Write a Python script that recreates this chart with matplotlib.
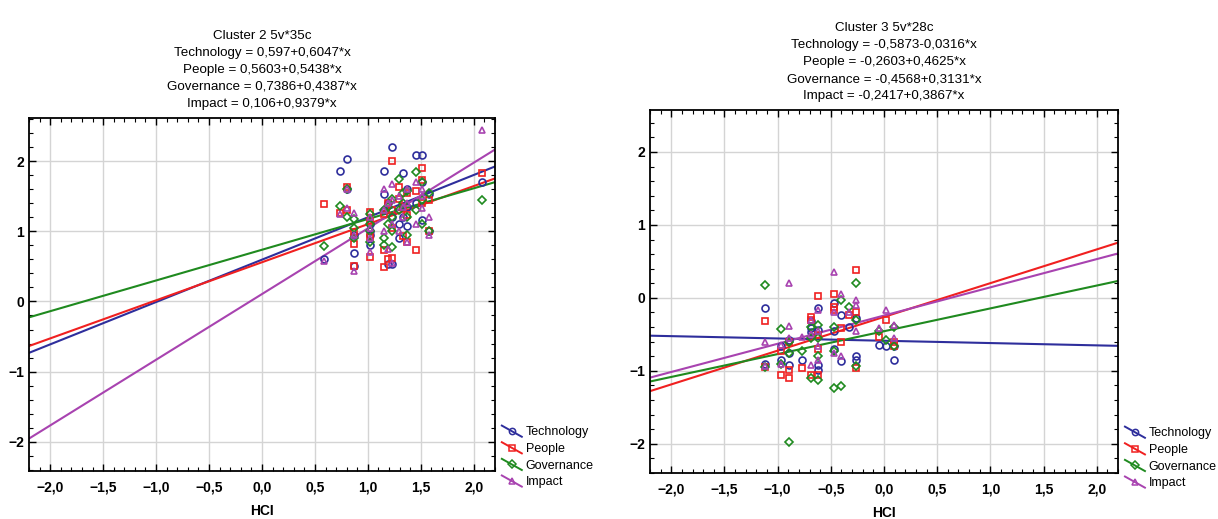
import matplotlib
matplotlib.use('Agg')
import matplotlib.pyplot as plt
from matplotlib.lines import Line2D
from matplotlib.legend_handler import HandlerBase
from matplotlib.ticker import FuncFormatter, MultipleLocator

plt.rcParams['font.family'] = ['Liberation Sans Narrow', 'Liberation Sans', 'DejaVu Sans']
plt.rcParams['font.size'] = 10

series = ['Technology', 'People', 'Governance', 'Impact']
colors = ['#2e2e9c', '#f02020', '#1f8a1f', '#a843b0']
markers = ['o', 's', 'D', '^']

# Cluster 2 (35 cases)
hci2 = [0.59, 0.74, 0.80, 0.80, 0.87, 0.87, 0.87, 1.02, 1.02, 1.02, 1.02, 1.15, 1.15, 1.15,
        1.19, 1.19, 1.23, 1.23, 1.23, 1.23, 1.29, 1.29, 1.33, 1.33, 1.37, 1.37, 1.37, 1.45,
        1.45, 1.51, 1.51, 1.51, 1.58, 1.58, 2.08]
tech2 = [0.60, 1.87, 2.04, 1.60, 0.69, 0.95, 0.50, 1.11, 0.80, 0.95, 1.00, 1.86, 1.53, 1.30,
         0.53, 1.40, 2.20, 0.53, 1.20, 1.30, 0.90, 1.10, 1.83, 1.20, 1.08, 1.35, 1.60, 2.09,
         1.40, 2.09, 1.17, 1.70, 1.54, 1.00, 1.70]
people2 = [1.39, 1.27, 1.63, 1.30, 0.99, 0.82, 0.50, 1.28, 0.92, 0.64, 1.15, 0.73, 0.49, 1.25,
           1.40, 0.60, 2.00, 0.62, 1.30, 1.05, 1.63, 1.47, 0.93, 1.35, 1.23, 1.55, 0.85, 1.58,
           0.73, 1.91, 1.74, 1.40, 1.00, 1.45, 1.83]
gov2 = [0.79, 1.36, 1.60, 1.20, 1.18, 0.90, 1.05, 1.00, 1.25, 0.85, 1.10, 0.90, 0.80, 1.30,
        1.10, 1.35, 0.78, 1.47, 1.20, 1.00, 1.75, 1.30, 1.55, 1.40, 1.58, 1.20, 0.95, 1.30,
        1.85, 1.70, 1.10, 1.45, 1.00, 1.55, 1.45]
impact2 = [0.58, 1.25, 1.33, 1.60, 1.27, 0.43, 0.95, 1.05, 1.20, 0.90, 0.70, 1.60, 1.00, 1.30,
           1.40, 0.75, 1.68, 1.10, 1.45, 0.55, 1.00, 1.50, 1.35, 1.20, 0.85, 1.60, 1.40, 1.70,
           1.10, 1.60, 1.33, 1.50, 1.20, 0.95, 2.45]
icpt2 = [0.597, 0.5603, 0.7386, 0.106]
slope2 = [0.6047, 0.5438, 0.4387, 0.9379]

# Cluster 3 (28 cases)
hci3 = [-1.12, -1.12, -0.97, -0.97, -0.89, -0.89, -0.89, -0.77, -0.69, -0.69, -0.69, -0.62,
        -0.62, -0.62, -0.62, -0.47, -0.47, -0.47, -0.40, -0.40, -0.33, -0.26, -0.26, -0.26,
        -0.05, 0.02, 0.09, 0.09]
tech3 = [-0.14, -0.90, -0.66, -0.85, -0.58, -0.92, -0.75, -0.85, -0.32, -0.41, -0.47, -0.14,
         -0.44, -0.92, -0.99, -0.07, -0.46, -0.70, -0.23, -0.87, -0.40, -0.28, -0.80, -0.85,
         -0.64, -0.66, -0.66, -0.85]
people3 = [-0.32, -0.95, -0.73, -1.05, -0.99, -1.10, -0.60, -0.96, -0.26, -0.30, -1.05, 0.02,
           -0.51, -1.05, -0.70, 0.06, -0.12, -0.16, -0.41, -0.60, -0.23, 0.38, -0.19, -0.96,
           -0.53, -0.30, -0.66, -0.60]
gov3 = [0.18, -0.95, -0.42, -0.90, -1.97, -0.75, -0.60, -0.73, -1.10, -0.55, -0.40, -0.37,
        -0.80, -1.12, -0.55, -1.24, -0.73, -0.40, -0.03, -1.21, -0.12, 0.20, -0.94, -0.30,
        -0.45, -0.58, -0.66, -0.40]
impact3 = [-0.94, -0.60, -0.90, -0.65, 0.21, -0.39, -0.55, -0.54, -0.92, -0.50, -0.30, -0.16,
           -0.66, -0.45, -0.85, 0.36, -0.76, -0.20, 0.06, -0.80, -0.19, -0.03, -0.46, -0.10,
           -0.41, -0.16, -0.37, -0.55]
icpt3 = [-0.5873, -0.2603, -0.4568, -0.2417]
slope3 = [-0.0316, 0.4625, 0.3131, 0.3867]

titles = [
    'Cluster 2 5v*35c\nTechnology = 0,597+0,6047*x\nPeople = 0,5603+0,5438*x\n'
    'Governance = 0,7386+0,4387*x\nImpact = 0,106+0,9379*x',
    'Cluster 3 5v*28c\nTechnology = -0,5873-0,0316*x\nPeople = -0,2603+0,4625*x\n'
    'Governance = -0,4568+0,3131*x\nImpact = -0,2417+0,3867*x',
]


class DiagHandler(HandlerBase):
    # diagonal line with the marker in the middle, like the original legend
    def create_artists(self, legend, orig, xd, yd, w, h, fontsize, trans):
        c = orig.get_color()
        ln = Line2D([-xd, -xd + w], [-yd + h, -yd], color=c, lw=1.4)
        mk = Line2D([-xd + w / 2], [-yd + h / 2], marker=orig.get_marker(), ms=4.5,
                    mfc='none', mec=c, mew=1.1, ls='none')
        ln.set_transform(trans)
        mk.set_transform(trans)
        return [ln, mk]


def fmt_x(v, pos):
    return ('%.1f' % v).replace('.', ',').replace('-', '\u2212')


def fmt_y(v, pos):
    return ('%d' % round(v)).replace('-', '\u2212')


def panel(fig, rect, hci, ys, icpt, slope, title, ylim, leg_xy):
    ax = fig.add_axes(rect)
    handles = []
    for y, c, m, a, b, name in zip(ys, colors, markers, icpt, slope, series):
        ms = 4.0 if m == 'D' else 5.0
        ax.plot(hci, y, ls='none', marker=m, ms=ms, mfc='none', mec=c, mew=1.2, zorder=3)
        ax.axline((0, a), slope=b, color=c, lw=1.5, zorder=2)
        handles.append(Line2D([], [], color=c, marker=m, label=name))
    ax.set_xlim(-2.2, 2.2)
    ax.set_ylim(*ylim)
    ax.xaxis.set_major_locator(MultipleLocator(0.5))
    ax.xaxis.set_minor_locator(MultipleLocator(0.1))
    ax.yaxis.set_major_locator(MultipleLocator(1))
    ax.yaxis.set_minor_locator(MultipleLocator(0.2))
    ax.xaxis.set_major_formatter(FuncFormatter(fmt_x))
    ax.yaxis.set_major_formatter(FuncFormatter(fmt_y))
    ax.tick_params(which='both', direction='in', top=True, right=True, labelsize=10)
    ax.tick_params(which='major', length=5, width=1)
    ax.tick_params(axis='x', which='major', pad=6.5)
    ax.tick_params(which='minor', length=3, width=0.8)
    for lab in ax.get_xticklabels() + ax.get_yticklabels():
        lab.set_fontweight('bold')
    ax.grid(True, which='major', color='#d4d4d4', lw=1)
    ax.set_axisbelow(True)
    for s in ax.spines.values():
        s.set_linewidth(1.3)
    ax.set_xlabel('HCI', fontsize=10, fontweight='bold', labelpad=7.5)
    ax.set_title(title, fontsize=9.6, linespacing=1.54, pad=8)
    fig.legend(handles=handles, loc='upper left', bbox_to_anchor=leg_xy, frameon=False,
               handler_map={Line2D: DiagHandler()}, handlelength=1.6, handleheight=1.0,
               handletextpad=0.3, labelspacing=0.3, borderpad=0, borderaxespad=0,
               fontsize=9.0)
    return ax


fig = plt.figure(figsize=(12.18, 5.19), dpi=100)
panel(fig, [0.0238, 0.0925, 0.3826, 0.6802], hci2, [tech2, people2, gov2, impact2],
      icpt2, slope2, titles[0], (-2.42, 2.62), (0.412, 0.180))
panel(fig, [0.5337, 0.0886, 0.3842, 0.6994], hci3, [tech3, people3, gov3, impact3],
      icpt3, slope3, titles[1], (-2.40, 2.575), (0.9236, 0.178))
plt.savefig('out.png', dpi=100)
